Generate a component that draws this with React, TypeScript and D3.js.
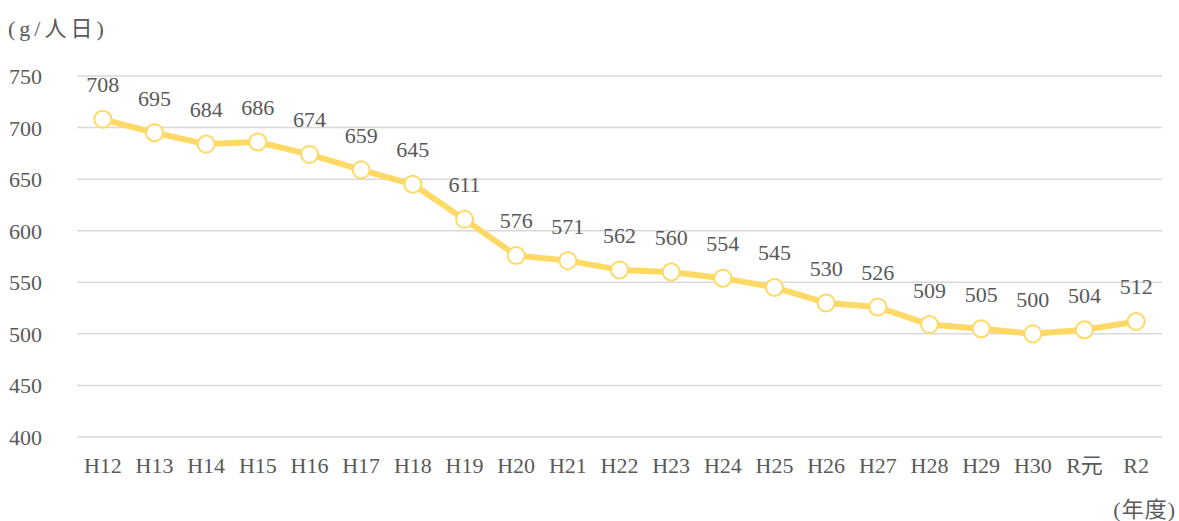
import React from "react";
import * as d3 from "d3";

const categories = ["H12","H13","H14","H15","H16","H17","H18","H19","H20","H21","H22","H23","H24","H25","H26","H27","H28","H29","H30","R元","R2"];
const values = [708,695,684,686,674,659,645,611,576,571,562,560,554,545,530,526,509,505,500,504,512];
const yTicks = [400,450,500,550,600,650,700,750];

const W = 1179, H = 521;
const left = 77, right = 1162, top = 76, bottom = 437;
const FONT = "Liberation Serif, Noto Sans CJK JP, serif";
const TXT = "#595959";
const FS = 22;

export default function App() {
  const x = d3.scaleBand<string>().domain(categories).range([left, right]);
  const y = d3.scaleLinear().domain([400, 750]).range([bottom, top]);
  const cx = (c: string) => (x(c) as number) + x.bandwidth() / 2;
  const line = d3.line<number>().x((_, i) => cx(categories[i])).y(v => y(v));
  return (
    <svg width={W} height={H} style={{ position: "absolute", left: 0, top: 0, background: "#fff" }}>
      <text x={8} y={36} fontFamily={FONT} fontSize={FS} fill={TXT} letterSpacing={4}>(g/人日)</text>
      {yTicks.map(t => (
        <g key={t}>
          <line x1={left} x2={right} y1={y(t)} y2={y(t)} stroke="#d9d9d9" strokeWidth={1.5} />
          <text x={9} y={y(t) + 8} fontFamily={FONT} fontSize={FS} fill={TXT}>{t}</text>
        </g>
      ))}
      {categories.map(c => (
        <text key={c} x={cx(c)} y={473} textAnchor="middle" fontFamily={FONT} fontSize={FS} fill={TXT}>{c}</text>
      ))}
      <text x={1176} y={517} textAnchor="end" fontFamily={FONT} fontSize={FS} fill={TXT} letterSpacing={1}>(年度)</text>
      <path d={line(values) || ""} fill="none" stroke="#FFD966" strokeWidth={6} strokeLinejoin="round" />
      {values.map((v, i) => (
        <g key={i}>
          <circle cx={cx(categories[i])} cy={y(v)} r={8.5} fill="#fff" stroke="#FFD966" strokeWidth={2} />
          <text x={cx(categories[i])} y={y(v) - 27} textAnchor="middle" fontFamily={FONT} fontSize={FS} fill={TXT}>{v}</text>
        </g>
      ))}
    </svg>
  );
}
